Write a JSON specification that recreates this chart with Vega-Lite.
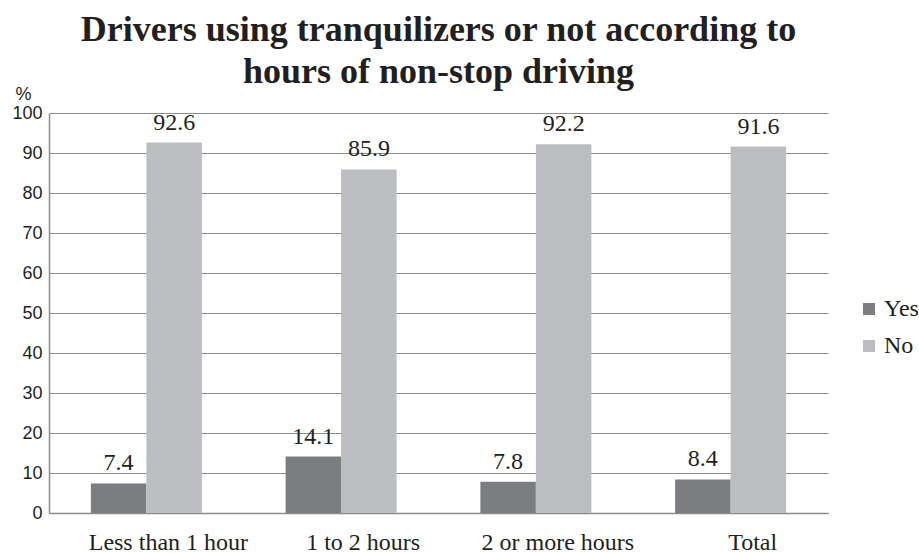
{
  "$schema": "https://vega.github.io/schema/vega-lite/v6.json",
  "width": 779,
  "height": 400,
  "autosize": {"type": "none"},
  "padding": {"left": 49, "top": 113, "right": 91, "bottom": 40},
  "background": "white",
  "title": {
    "text": ["Drivers using tranquilizers or not according to", "hours of non-stop driving"],
    "font": "Liberation Serif, Times New Roman, serif",
    "fontSize": 36,
    "fontWeight": "bold",
    "color": "#231f20",
    "anchor": "middle",
    "frame": "group",
    "lineHeight": 42,
    "offset": -6
  },
  "data": {
    "values": [
      {"group": "Less than 1 hour", "answer": "Yes", "value": 7.4},
      {"group": "Less than 1 hour", "answer": "No", "value": 92.6},
      {"group": "1 to 2 hours", "answer": "Yes", "value": 14.1},
      {"group": "1 to 2 hours", "answer": "No", "value": 85.9},
      {"group": "2 or more hours", "answer": "Yes", "value": 7.8},
      {"group": "2 or more hours", "answer": "No", "value": 92.2},
      {"group": "Total", "answer": "Yes", "value": 8.4},
      {"group": "Total", "answer": "No", "value": 91.6}
    ]
  },
  "encoding": {
    "x": {
      "field": "group",
      "type": "nominal",
      "sort": ["Less than 1 hour", "1 to 2 hours", "2 or more hours", "Total"],
      "scale": {"paddingInner": 0.43, "paddingOuter": 0.215},
      "axis": {
        "title": null,
        "labelAngle": 0,
        "labelFont": "Liberation Serif, Times New Roman, serif",
        "labelFontSize": 24,
        "labelColor": "#231f20",
        "labelBaseline": "alphabetic",
        "labelPadding": 36,
        "labelOffset": 22,
        "ticks": false,
        "tickSize": 0,
        "domainColor": "#8c8c8c",
        "domainWidth": 1.5,
        "grid": false
      }
    },
    "xOffset": {
      "field": "answer",
      "type": "nominal",
      "sort": ["Yes", "No"],
      "scale": {"paddingInner": 0, "paddingOuter": 0}
    },
    "y": {
      "field": "value",
      "type": "quantitative",
      "scale": {"domain": [0, 100], "nice": false},
      "axis": {
        "title": "%",
        "titleAngle": 0,
        "titleFont": "Liberation Sans, Arial, sans-serif",
        "titleFontSize": 18,
        "titleFontWeight": "normal",
        "titleColor": "#231f20",
        "titleAlign": "left",
        "titleBaseline": "alphabetic",
        "titleX": -34,
        "titleY": -14,
        "values": [0, 10, 20, 30, 40, 50, 60, 70, 80, 90, 100],
        "labelFont": "Liberation Sans, Arial, sans-serif",
        "labelFontSize": 18,
        "labelColor": "#231f20",
        "labelPadding": 7,
        "ticks": false,
        "tickSize": 0,
        "domainColor": "#8c8c8c",
        "domainWidth": 1.5,
        "grid": true,
        "gridColor": "#8c8c8c",
        "gridWidth": 1.2
      }
    }
  },
  "layer": [
    {
      "mark": {"type": "bar"},
      "encoding": {
        "color": {
          "field": "answer",
          "type": "nominal",
          "sort": ["Yes", "No"],
          "scale": {"domain": ["Yes", "No"], "range": ["#7c7d81", "#bcbdc1"]},
          "legend": {
            "title": null,
            "orient": "none",
            "legendX": 808,
            "legendY": 184,
            "padding": 0,
            "symbolType": "square",
            "symbolSize": 144,
            "symbolStrokeWidth": 0,
            "labelFont": "Liberation Serif, Times New Roman, serif",
            "labelFontSize": 24,
            "labelColor": "#231f20",
            "labelOffset": 3,
            "rowPadding": 13
          }
        }
      }
    },
    {
      "mark": {
        "type": "text",
        "font": "Liberation Serif, Times New Roman, serif",
        "fontSize": 24,
        "color": "#231f20",
        "baseline": "alphabetic",
        "dy": -13
      },
      "encoding": {
        "text": {"field": "value", "type": "quantitative", "format": ".1f"}
      }
    }
  ],
  "config": {
    "view": {"stroke": null}
  }
}
